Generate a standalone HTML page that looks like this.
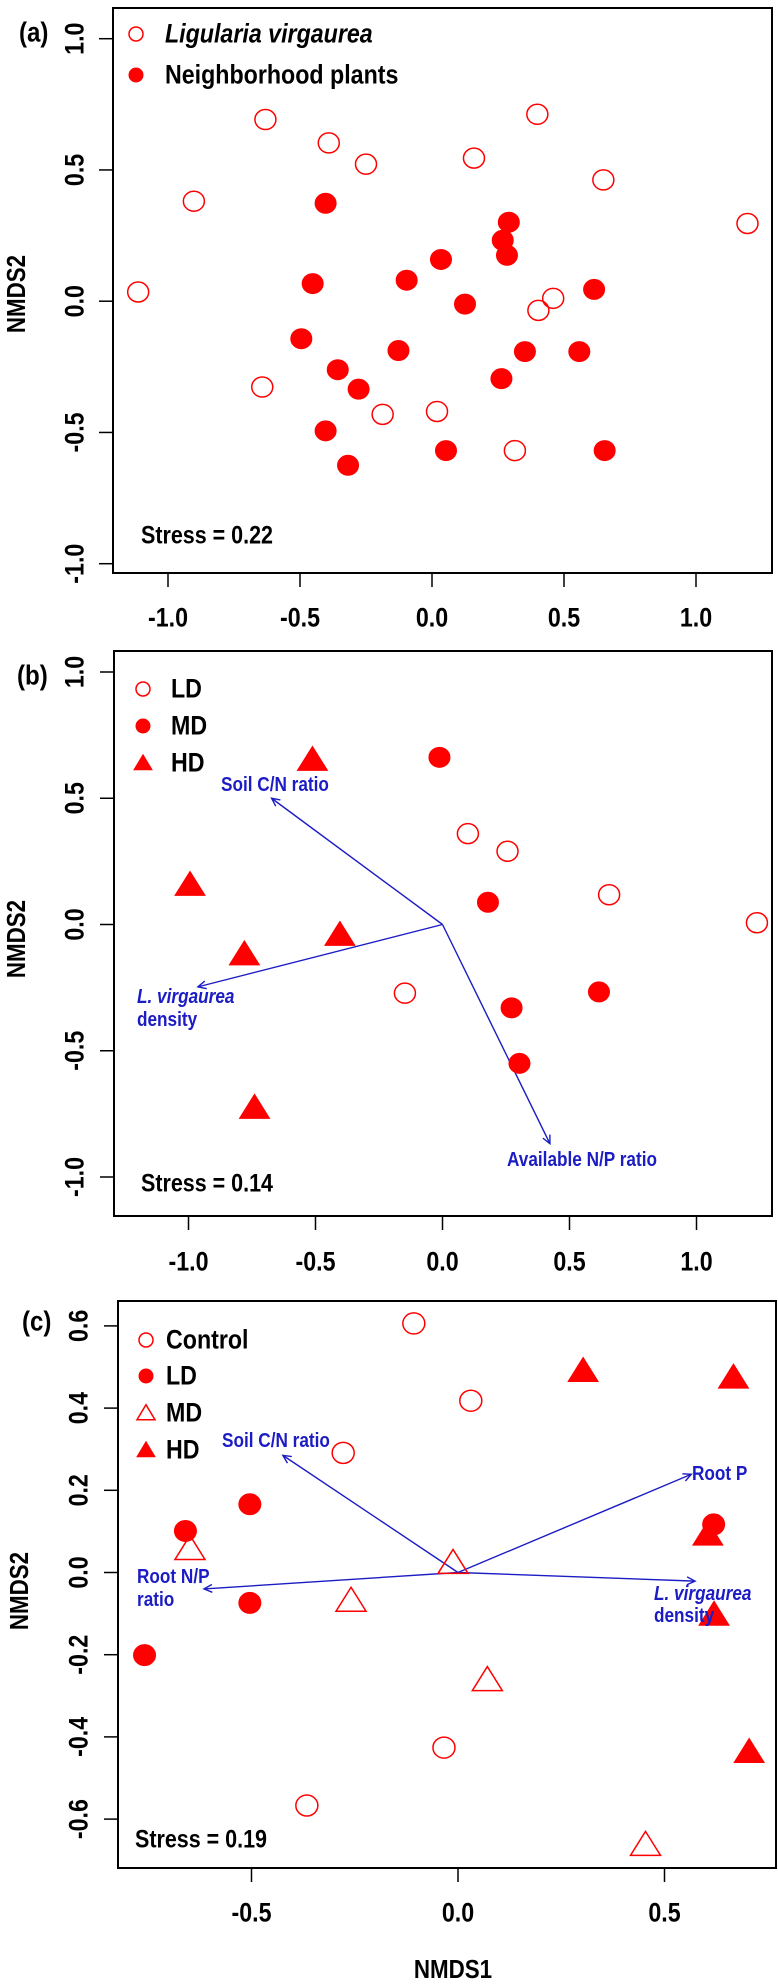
<!DOCTYPE html>
<html><head><meta charset="utf-8"><style>
html,body{margin:0;padding:0;background:#fff;}
svg{display:block;font-family:"Liberation Sans",Arial,sans-serif;font-weight:bold;}
</style></head><body>
<svg id="chart" width="778" height="1987" viewBox="0 0 778 1987" xmlns="http://www.w3.org/2000/svg"></svg>
<script>
// ---------- Panel (a) data ----------
const aOpenX = [-1.113,-0.902,-0.631,-0.391,-0.250,0.159,0.399,0.649,1.195,0.459,0.403,-0.643,-0.187,0.019,0.314];
const aOpenY = [0.035,0.381,0.692,0.603,0.522,0.545,0.712,0.462,0.296,0.011,-0.035,-0.327,-0.431,-0.420,-0.569];
const aFillX = [-0.403,0.291,0.268,0.284,0.034,-0.452,-0.096,0.125,0.614,-0.495,-0.127,0.352,0.558,-0.357,-0.278,0.263,-0.403,0.053,0.654,-0.318];
const aFillY = [0.373,0.301,0.232,0.175,0.159,0.067,0.080,-0.011,0.045,-0.143,-0.188,-0.192,-0.192,-0.261,-0.335,-0.295,-0.494,-0.569,-0.569,-0.625];
const aXTicks = [-1.0,-0.5,0.0,0.5,1.0];
const aYTicks = [-1.0,-0.5,0.0,0.5,1.0];
const aTickLabels = ["-1.0","-0.5","0.0","0.5","1.0"];
// ---------- Panel (b) data ----------
const bLDX = [0.100,0.256,0.656,1.238,-0.148];
const bLDY = [0.360,0.290,0.118,0.007,-0.272];
const bMDX = [-0.012,0.179,0.616,0.272,0.303];
const bMDY = [0.662,0.088,-0.267,-0.330,-0.550];
const bHDX = [-0.512,-0.994,-0.780,-0.404,-0.740];
const bHDY = [0.653,0.158,-0.117,-0.040,-0.725];
const bVecNames = ["Soil C/N ratio","L. virgaurea density","Available N/P ratio"];
const bVecX = [-0.673,-0.963,0.423];
const bVecY = [0.500,-0.247,-0.868];
// ---------- Panel (c) data ----------
const cCtrlX = [-0.107,0.031,-0.278,-0.034,-0.366];
const cCtrlY = [0.606,0.418,0.291,-0.426,-0.567];
const cLDX = [-0.504,-0.660,-0.504,-0.759,0.619];
const cLDY = [0.166,0.101,-0.074,-0.201,0.117];
const cMDX = [-0.649,-0.012,-0.259,0.071,0.454];
const cMDY = [0.058,0.024,-0.068,-0.261,-0.662];
const cHDX = [0.303,0.667,0.605,0.620,0.705];
const cHDY = [0.491,0.475,0.093,-0.102,-0.436];
const cVecNames = ["Soil C/N ratio","Root P","Root N/P ratio","L. virgaurea density"];
const cVecX = [-0.424,0.565,-0.615,0.574];
const cVecY = [0.285,0.239,-0.040,-0.021];
const cXTicks = [-0.5,0.0,0.5];
const cXTickLabels = ["-0.5","0.0","0.5"];
const cYTicks = [-0.6,-0.4,-0.2,0.0,0.2,0.4,0.6];
const cYTickLabels = ["-0.6","-0.4","-0.2","0.0","0.2","0.4","0.6"];

const NS = "http://www.w3.org/2000/svg";
const svg = document.getElementById('chart');
const RED = "#ff0000", BLUE = "#1c1cc4";
const SX = 0.86;
function mk(tag, attrs, parent){
  const e = document.createElementNS(NS, tag);
  for (const k in attrs) e.setAttribute(k, attrs[k]);
  (parent||svg).appendChild(e);
  return e;
}
function txt(s, x, y, size, opts, parent){
  opts = opts||{};
  const t = mk('text', {x:0, y:0, 'font-size':size, fill:opts.fill||'#000', 'text-anchor':opts.anchor||'start', 'dominant-baseline':'central'}, parent);
  if (opts.italic) t.setAttribute('font-style','italic');
  let tr = 'translate('+x+' '+y+')';
  if (opts.rotate) tr += ' rotate(-90)';
  tr += ' scale('+SX+' 1)';
  t.setAttribute('transform', tr);
  t.textContent = s;
  return t;
}
function makeAxes(name, box, sx, sy, xt, xtl, yt, ytl, xLabY, yLabX){
  const g = mk('g', {});
  
  
  const r = mk('rect', {x:box[0], y:box[1], width:box[2]-box[0], height:box[3]-box[1], fill:'none', stroke:'#000', 'stroke-width':2}, g);
  
  
  xt.forEach((v,i)=>{
    const x = sx(v);
    mk('line', {x1:x, x2:x, y1:box[3], y2:box[3]+14, stroke:'#000', 'stroke-width':1.5}, g);
    const t = txt(xtl[i], x, xLabY, 27, {anchor:'middle'}, g);
    
    
  });
  yt.forEach((v,i)=>{
    const y = sy(v);
    mk('line', {x1:box[0]-14, x2:box[0], y1:y, y2:y, stroke:'#000', 'stroke-width':1.5}, g);
    const t = txt(ytl[i], yLabX, y, 27, {anchor:'middle', rotate:true}, g);
    
    
  });
}
function circ(x,y,rx,ry,filled,name){
  const e = mk('ellipse', {cx:x, cy:y, rx:rx, ry:ry, fill:filled?RED:'none', stroke:RED, 'stroke-width':filled?1:1.5});
  
  
  return e;
}
function tri(x,y,b,h,filled,name){
  const p = (x-b/2)+','+(y+h*0.45)+' '+(x+b/2)+','+(y+h*0.45)+' '+x+','+(y-h*0.55);
  const e = mk('polygon', {points:p, fill:filled?RED:'none', stroke:RED, 'stroke-width':filled?1:1.5});
  
  
  return e;
}
function arrow(x0,y0,x1,y1,name){
  const g = mk('g', {stroke:BLUE, 'stroke-width':1.4, fill:'none'});
  
  
  mk('line', {x1:x0, y1:y0, x2:x1, y2:y1}, g);
  const a = Math.atan2(y1-y0, x1-x0), L = 9, w = 0.45;
  mk('polyline', {points:(x1-L*Math.cos(a-w))+','+(y1-L*Math.sin(a-w))+' '+x1+','+y1+' '+(x1-L*Math.cos(a+w))+','+(y1-L*Math.sin(a+w))}, g);
}

// ===== Panel (a) =====
const axA = v => 432 + 264*v, ayA = v => 301.2 - 262.5*v;
makeAxes('panel-a', [113,8,772,573], axA, ayA, aXTicks, aTickLabels, aYTicks, aTickLabels, 618, 75);
aOpenX.forEach((v,i)=>circ(axA(v), ayA(aOpenY[i]), 10.5, 10, false, 'point-ligularia'));
aFillX.forEach((v,i)=>circ(axA(v), ayA(aFillY[i]), 10.5, 10, true, 'point-neighborhood'));
let t;
t = txt('(a)', 19, 32, 28);  
t = txt('NMDS2', 17, 294, 26, {anchor:'middle', rotate:true});  
circ(136, 34, 7, 7, false, 'legend-marker-ligularia');
t = txt('Ligularia virgaurea', 165, 34, 27, {italic:true});  
circ(136, 75, 7, 7, true, 'legend-marker-neighborhood');
t = txt('Neighborhood plants', 165, 75, 27);  
t = txt('Stress = 0.22', 141, 535, 25);  

// ===== Panel (b) =====
const axB = v => 442.5 + 254*v, ayB = v => 924.5 - 252.5*v;
makeAxes('panel-b', [114,651,772,1216], axB, ayB, aXTicks, aTickLabels, aYTicks, aTickLabels, 1262, 75);
bVecX.forEach((v,i)=>arrow(axB(0), ayB(0), axB(v), ayB(bVecY[i]), 'vector-'+i));
bLDX.forEach((v,i)=>circ(axB(v), ayB(bLDY[i]), 10.5, 10, false, 'point-ld'));
bMDX.forEach((v,i)=>circ(axB(v), ayB(bMDY[i]), 10.5, 10, true, 'point-md'));
bHDX.forEach((v,i)=>tri(axB(v), ayB(bHDY[i]), 30, 24, true, 'point-hd'));
t = txt('(b)', 17, 675, 28);  
t = txt('NMDS2', 17, 939, 26, {anchor:'middle', rotate:true});  
circ(143, 689, 7, 7, false, 'legend-marker-ld');
t = txt('LD', 171, 689, 27);  
circ(143, 726, 7, 7, true, 'legend-marker-md');
t = txt('MD', 171, 726, 27);  
tri(143, 763, 18, 15, true, 'legend-marker-hd');
t = txt('HD', 171, 763, 27);  
t = txt('Soil C/N ratio', 221, 784, 20, {fill:BLUE});  
t = txt('L. virgaurea', 137, 996, 20, {fill:BLUE, italic:true});  
t = txt('density', 137, 1019, 20, {fill:BLUE});  
t = txt('Available N/P ratio', 507, 1159, 20, {fill:BLUE});  
t = txt('Stress = 0.14', 141, 1183, 25);  

// ===== Panel (c) =====
const axC = v => 458 + 413*v, ayC = v => 1572.5 - 411*v;
makeAxes('panel-c', [118,1301,776,1868], axC, ayC, cXTicks, cXTickLabels, cYTicks, cYTickLabels, 1913, 79);
cVecX.forEach((v,i)=>arrow(axC(0), ayC(0), axC(v), ayC(cVecY[i]), 'vector-c-'+i));
cCtrlX.forEach((v,i)=>circ(axC(v), ayC(cCtrlY[i]), 11, 10.5, false, 'point-control'));
cLDX.forEach((v,i)=>circ(axC(v), ayC(cLDY[i]), 11, 10.5, true, 'point-ld'));
cMDX.forEach((v,i)=>tri(axC(v), ayC(cMDY[i]), 30, 24, false, 'point-md'));
cHDX.forEach((v,i)=>tri(axC(v), ayC(cHDY[i]), 30, 24, true, 'point-hd'));
t = txt('(c)', 22, 1321, 28);  
t = txt('NMDS2', 20, 1591, 26, {anchor:'middle', rotate:true});  
t = txt('NMDS1', 453, 1970, 26, {anchor:'middle'});  
circ(146, 1340, 7, 7, false, 'legend-marker-control');
t = txt('Control', 166, 1340, 27);  
circ(146, 1376, 7, 7, true, 'legend-marker-ld');
t = txt('LD', 166, 1376, 27);  
tri(146, 1413, 18, 15, false, 'legend-marker-md');
t = txt('MD', 166, 1413, 27);  
tri(146, 1450, 18, 15, true, 'legend-marker-hd');
t = txt('HD', 166, 1450, 27);  
t = txt('Soil C/N ratio', 222, 1440, 20, {fill:BLUE});  
t = txt('Root P', 692, 1473, 20, {fill:BLUE});  
t = txt('Root N/P', 137, 1576, 20, {fill:BLUE});  
t = txt('ratio', 137, 1599, 20, {fill:BLUE});  
t = txt('L. virgaurea', 654, 1593, 20, {fill:BLUE, italic:true});  
t = txt('density', 654, 1615, 20, {fill:BLUE});  
t = txt('Stress = 0.19', 135, 1839, 25);  
</script>
</body></html>
